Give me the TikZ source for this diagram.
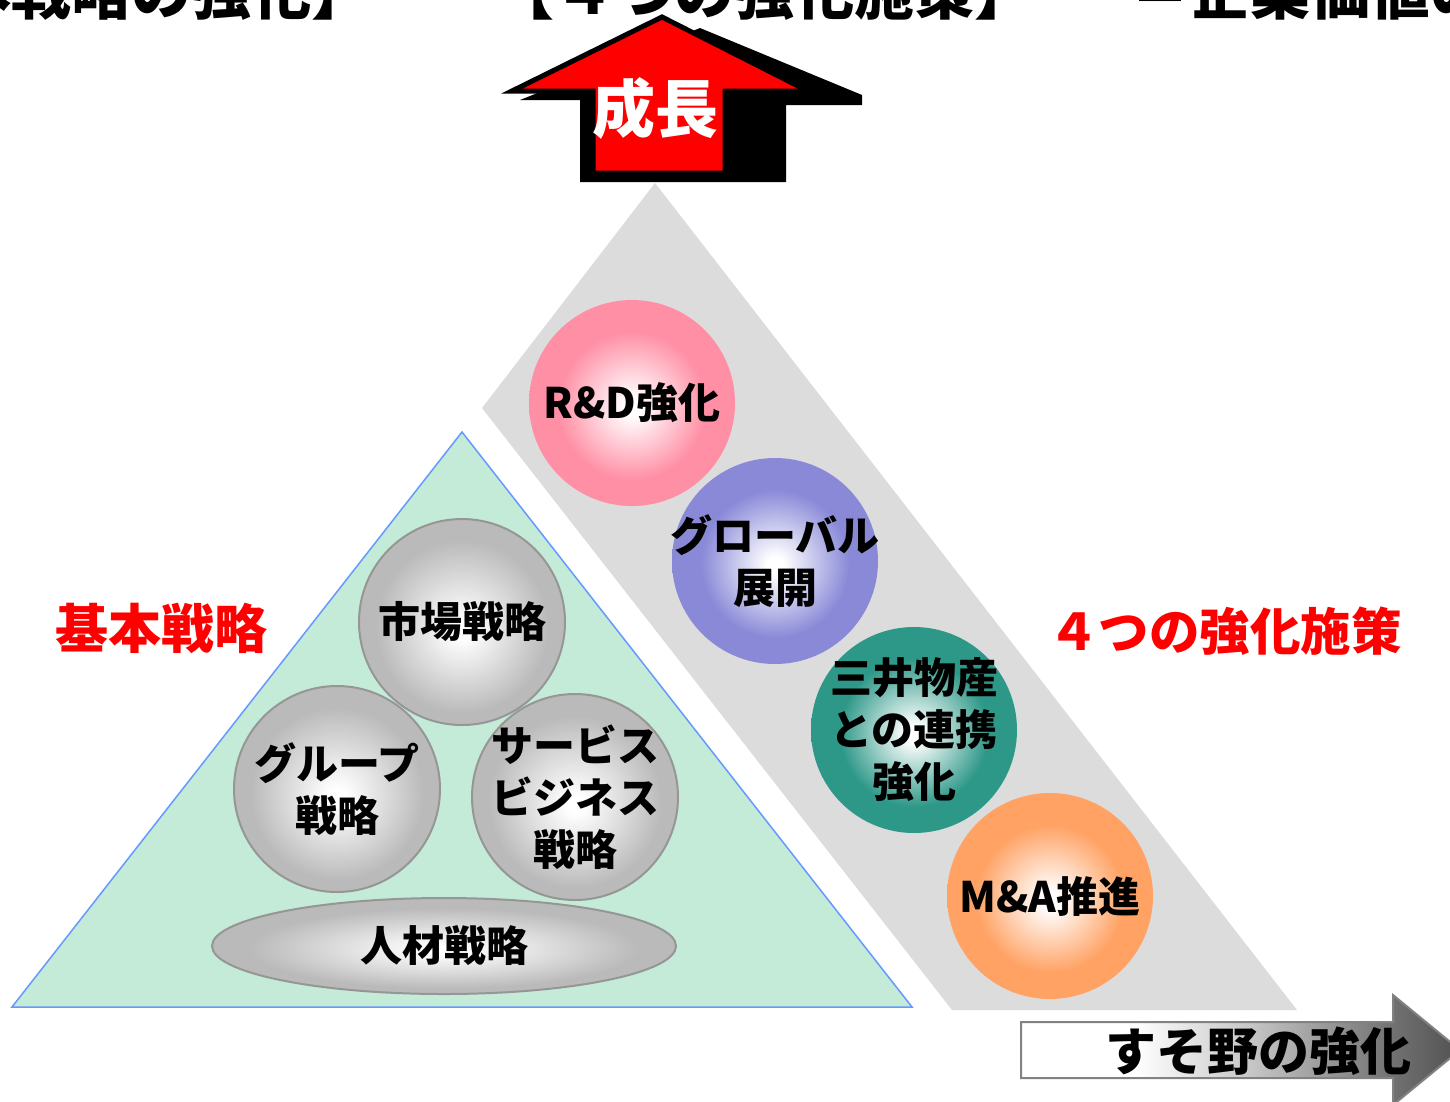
\documentclass[tikz,border=0pt]{standalone}
\usepackage{fontspec}
\newfontfamily\jp{Noto Sans CJK JP}
\usetikzlibrary{shapes.geometric}
\definecolor{pinkc}{RGB}{255,143,165}
\definecolor{bluec}{RGB}{137,137,216}
\definecolor{tealc}{RGB}{46,152,136}
\definecolor{orangec}{RGB}{255,162,100}
\definecolor{grayc}{RGB}{186,186,186}
\definecolor{bandc}{RGB}{220,220,220}
\definecolor{greenc}{RGB}{195,235,215}
\definecolor{edgeblue}{RGB}{102,153,255}
\definecolor{balledge}{RGB}{150,150,150}
\definecolor{arrowedge}{RGB}{130,130,130}
\pgfdeclareradialshading{shPink}{\pgfpoint{0bp}{-1bp}}{color(0bp)=(white); color(2bp)=(white); color(18bp)=(pinkc); color(25bp)=(pinkc); color(50bp)=(pinkc)}
\pgfdeclareradialshading{shBlue}{\pgfpoint{0bp}{-1bp}}{color(0bp)=(white); color(2bp)=(white); color(18bp)=(bluec); color(25bp)=(bluec); color(50bp)=(bluec)}
\pgfdeclareradialshading{shTeal}{\pgfpoint{0bp}{-1bp}}{color(0bp)=(white); color(2bp)=(white); color(18bp)=(tealc); color(25bp)=(tealc); color(50bp)=(tealc)}
\pgfdeclareradialshading{shOrange}{\pgfpoint{0bp}{-1bp}}{color(0bp)=(white); color(2bp)=(white); color(18bp)=(orangec); color(25bp)=(orangec); color(50bp)=(orangec)}
\pgfdeclareradialshading{shGray}{\pgfpoint{0bp}{-2bp}}{color(0bp)=(white); color(2bp)=(white); color(21bp)=(grayc); color(25bp)=(grayc); color(50bp)=(grayc)}
\pgfdeclarehorizontalshading{shArrow}{100bp}{color(0bp)=(white); color(38bp)=(white); color(51bp)=(black!22); color(67bp)=(black!55); color(75bp)=(black!68); color(100bp)=(black!68)}
\tikzset{
  ball/.style={circle, minimum size=206pt, inner sep=0pt},
  balltext/.style={inner sep=0pt, align=center, font=\jp\bfseries\fontsize{42}{52}\selectfont},
  grayball/.style={ball, shading=shGray, draw=balledge, line width=2pt},
  redlabel/.style={text=red, inner sep=0pt, font=\jp\bfseries\fontsize{53}{60}\selectfont},
  toptitle/.style={inner sep=0pt, font=\jp\bfseries\fontsize{60}{60}\selectfont},
}
\begin{document}
\begin{tikzpicture}[x=1pt,y=-1pt]
\clip (0,0) rectangle (1450,1101);
\fill[white] (0,0) rectangle (1450,1101);
% clipped title line at the top
\node[toptitle, anchor=base east] (t1) at (372,14) {【基本戦略の強化】};
\node[toptitle, anchor=base] (t2) at (764,14) {【４つの強化施策】};
\node[toptitle, anchor=base west] (t3) at (1130,14) {＝企業価値の向上};
% growth arrow
\fill[black] (700,28) -- (862,95) -- (862,105) -- (786,105) -- (786,182) -- (580,182) -- (580,100) -- (520,100) -- cycle;
\draw[fill=red, draw=black, line width=5pt] (662,17) -- (808,91) -- (725,91) -- (725,173) -- (593,173) -- (593,91) -- (512,91) -- cycle;
\node[text=white, inner sep=0pt, font=\jp\bfseries\fontsize{63}{63}\selectfont] (grow) at (655,108) {成長};
% gray band
\fill[bandc] (655,183) -- (1297,1010) -- (952,1010) -- (482,408) -- cycle;
% green triangle
\draw[fill=greenc, draw=edgeblue, line width=1.5pt] (462,432) -- (912,1007) -- (12,1007) -- cycle;
% basic strategies
\node[grayball, label={[balltext]center:市場戦略}] (mkt) at (462,622) {};
\node[grayball, label={[balltext]center:{グループ\\戦略}}] (grp) at (337,789) {};
\node[grayball, label={[balltext]center:{サービス\\ビジネス\\戦略}}] (svc) at (575,797) {};
\node[ellipse, minimum width=464pt, minimum height=96pt, inner sep=0pt, shading=shGray, draw=balledge, line width=2pt,
  label={[balltext]center:人材戦略}] (hr) at (444,946) {};
% four measures
\node[ball, shading=shPink, label={[balltext]center:R\&D強化}] (rd) at (632,403) {};
\node[ball, shading=shBlue, label={[balltext]center:{グローバル\\展開}}] (glb) at (775,561) {};
\node[ball, shading=shTeal, label={[balltext]center:{三井物産\\との連携\\強化}}] (mit) at (914,730) {};
\node[ball, shading=shOrange, label={[balltext]center:M\&A推進}] (ma) at (1050,896) {};
% labels
\node[redlabel] (kihon) at (161,628) {基本戦略};
\node[redlabel, font=\jp\bfseries\fontsize{50.5}{60}\selectfont] (four) at (1225,631) {４つの強化施策};
% base arrow
\shade[shading=shArrow, draw=arrowedge, line width=2pt] (1021,1022) -- (1393,1022) -- (1393,995) -- (1460,1050) -- (1393,1105) -- (1393,1078) -- (1021,1078) -- cycle;
\node[inner sep=0pt, font=\jp\bfseries\fontsize{51}{51}\selectfont] (base) at (1258,1051) {すそ野の強化};
\end{tikzpicture}
\end{document}
